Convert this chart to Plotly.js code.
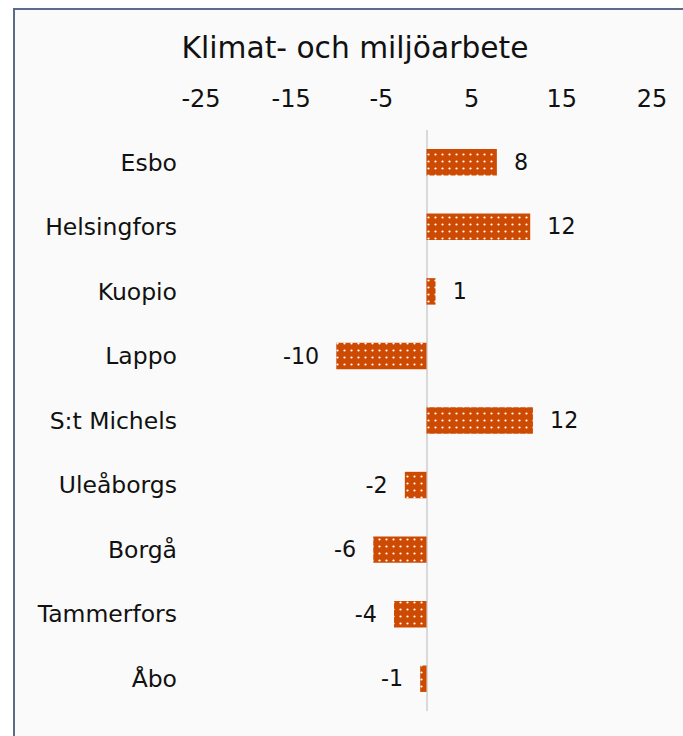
<!DOCTYPE html>
<html>
<head>
<meta charset="utf-8">
<script src="https://cdn.plot.ly/plotly-3.0.1.min.js"></script>
<style>
html,body{margin:0;padding:0;background:#ffffff;width:683px;height:736px;overflow:hidden;}
#frame{position:absolute;left:13px;top:8px;width:670px;height:728px;border-left:2px solid #5d6c86;border-top:2px solid #5d6c86;background:#fafafa;}
#chart{position:absolute;left:0;top:0;width:668px;height:726px;}
</style>
</head>
<body>
<div id="frame"><div id="chart"></div></div>
<script>
const categories = ["Esbo","Helsingfors","Kuopio","Lappo","S:t Michels","Uleåborgs","Borgå","Tammerfors","Åbo"];
const values = [7.8, 11.5, 1.0, -10.0, 11.8, -2.4, -5.9, -3.6, -0.7];
const tickValues = [-25,-15,-5,5,15,25];
const titleText = "Klimat- och miljöarbete";

const NB = "\u00a0";
const labels = values.map(v => v >= 0 ? NB+NB+Math.round(v) : Math.round(v)+NB+NB);

const trace = {
  type: "bar",
  orientation: "h",
  y: categories,
  x: values,
  text: labels,
  textposition: "outside",
  cliponaxis: false,
  textfont: {family: "DejaVu Sans", size: 23.5, color: "#111111"},
  marker: {
    color: "#cd4a02",
    line: {width: 0},
    pattern: {shape: ".", bgcolor: "#cd4a02", fgcolor: "#ffffff", size: 7, solidity: 0.08}
  },
  hoverinfo: "none"
};

const layout = {
  width: 668, height: 726,
  paper_bgcolor: "#fafafa",
  plot_bgcolor: "#fafafa",
  margin: {l: 186, r: 31, t: 120, b: 25},
  showlegend: false,
  bargap: 0.59,
  font: {family: "DejaVu Sans", color: "#111111"},
  title: {
    text: titleText,
    font: {family: "DejaVu Sans", size: 29.7, color: "#111111"},
    xref: "container", x: 0.509, xanchor: "center",
    yref: "container", y: 0.948, yanchor: "middle"
  },
  xaxis: {
    side: "top",
    range: [-25, 25],
    tickvals: tickValues,
    ticktext: tickValues.map(String),
    showgrid: false,
    zeroline: true,
    zerolinecolor: "#d9d9d9",
    zerolinewidth: 2,
    showline: false,
    ticks: "",
    ticklabelstandoff: 17,
    tickfont: {family: "DejaVu Sans", size: 24, color: "#111111"},
    fixedrange: true
  },
  yaxis: {
    type: "category",
    autorange: "reversed",
    showgrid: false,
    zeroline: false,
    showline: false,
    ticks: "",
    ticklabelstandoff: 23,
    tickfont: {family: "DejaVu Sans", size: 23.5, color: "#111111"},
    fixedrange: true
  }
};

Plotly.newPlot("chart", [trace], layout, {displayModeBar: false, staticPlot: true});
</script>
</body>
</html>
